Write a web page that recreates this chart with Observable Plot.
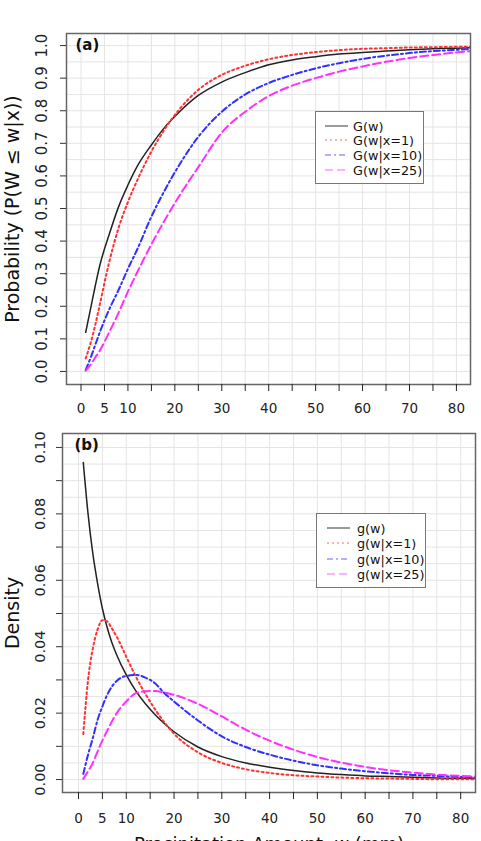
<!DOCTYPE html>
<html><head><meta charset="utf-8">
<script src="https://cdn.jsdelivr.net/npm/d3@7"></script>
<script src="https://cdn.jsdelivr.net/npm/@observablehq/plot@0.6"></script>
<style>
body{margin:0;background:#fff;font-family:"DejaVu Sans",sans-serif;}
#wrap{position:relative;width:481px;height:841px;overflow:hidden;background:#fff;}
#title{position:absolute;top:0px;left:66px;width:404px;text-align:center;font-size:14px;color:#111;line-height:17px;}
.panel{position:absolute;left:0;}
.legend{position:absolute;background:#fff;border:1.5px solid #777;box-sizing:border-box;}
.legend svg{display:block;}
</style></head>
<body><div id="wrap"><div id="title">Region 4</div></div>
<script>
// ---- data ----
const xTicks = [0,5,10,15,20,25,30,35,40,45,50,55,60,65,70,75,80];
const xLabels = [0,5,10,20,30,40,50,60,70,80];
const yTicksA = [0,0.1,0.2,0.3,0.4,0.5,0.6,0.7,0.8,0.9,1.0];
const yLabelsA = [0,0.1,0.2,0.3,0.4,0.5,0.6,0.7,0.8,0.9,1.0];
const yGridA = [0,0.05,0.1,0.15,0.2,0.25,0.3,0.35,0.4,0.45,0.5,0.55,0.6,0.65,0.7,0.75,0.8,0.85,0.9,0.95,1.0];
const yTicksB = [0,0.01,0.02,0.03,0.04,0.05,0.06,0.07,0.08,0.09,0.10];
const yLabelsB = [0,0.02,0.04,0.06,0.08,0.10];
const yGridB = [0,0.005,0.01,0.015,0.02,0.025,0.03,0.035,0.04,0.045,0.05,0.055,0.06,0.065,0.07,0.075,0.08,0.085,0.09,0.095,0.10];

// panel (a): cumulative probabilities
const wA = [1,2,3,4,6,8,10,12,15,18,21,25,30,35,40,45,50,55,60,65,70,75,80,83];
const G    = [0.12,0.19,0.26,0.325,0.42,0.505,0.572,0.63,0.695,0.752,0.797,0.847,0.888,0.917,0.941,0.956,0.966,0.974,0.979,0.983,0.987,0.99,0.992,0.993];
const Gx1  = [0.04,0.085,0.14,0.205,0.335,0.44,0.52,0.587,0.675,0.747,0.805,0.864,0.91,0.938,0.958,0.971,0.98,0.986,0.99,0.992,0.994,0.995,0.996,0.996];
const Gx10 = [0.005,0.04,0.08,0.12,0.19,0.25,0.315,0.375,0.475,0.56,0.635,0.72,0.797,0.85,0.885,0.91,0.93,0.946,0.959,0.969,0.977,0.983,0.987,0.989];
const Gx25 = [0.002,0.02,0.042,0.064,0.12,0.18,0.245,0.305,0.39,0.468,0.54,0.627,0.733,0.797,0.845,0.877,0.9,0.92,0.936,0.95,0.962,0.971,0.979,0.983];

// panel (b): densities
const wB = [1,2,3,4,5,6,7,8,10,12,14,16,18,20,25,30,35,40,45,50,55,60,65,70,75,80,83];
const g    = [0.0955,0.08,0.068,0.059,0.0515,0.0458,0.0412,0.0375,0.0315,0.0267,0.0228,0.0196,0.0168,0.0144,0.0098,0.0069,0.005,0.0037,0.0027,0.002,0.0015,0.0011,0.0009,0.0007,0.0005,0.0004,0.0004];
const gx1  = [0.0137,0.03,0.0395,0.0452,0.048,0.0476,0.0455,0.043,0.037,0.031,0.0258,0.0212,0.0172,0.0138,0.0082,0.005,0.0031,0.002,0.0013,0.0009,0.0006,0.0004,0.0003,0.0002,0.0001,0.0001,0.0001];
const gx10 = [0.0017,0.0075,0.0125,0.018,0.022,0.0255,0.028,0.0297,0.0312,0.0315,0.0307,0.029,0.026,0.0235,0.0178,0.013,0.0098,0.0075,0.0057,0.0043,0.0033,0.0025,0.0019,0.0014,0.0011,0.0008,0.0007];
const gx25 = [0.0002,0.0025,0.005,0.0085,0.0118,0.0147,0.0175,0.02,0.0235,0.026,0.0266,0.0267,0.0262,0.0255,0.0228,0.019,0.015,0.0117,0.009,0.0068,0.0051,0.0038,0.0028,0.0021,0.0015,0.0011,0.0009];

const namesA = ["G(w)","G(w|x=1)","G(w|x=10)","G(w|x=25)"];
const namesB = ["g(w)","g(w|x=1)","g(w|x=10)","g(w|x=25)"];

// ---- styles ----
const styles = [
  {stroke:"#222", width:1.5, dash:null},
  {stroke:"#ff3030", width:2, dash:"2 3"},
  {stroke:"#3030ff", width:2, dash:"6 3 2 3"},
  {stroke:"#ff30ff", width:2, dash:"8 4"}
];

function tidy(w, series){
  return series.map(s => w.map((x,i)=>({w:x, v:s[i]})));
}

function panel(opts){
  const seriesData = tidy(opts.w, opts.series);
  const marks = [
    Plot.gridX(xTicks, {stroke:"#e4e4e4", strokeOpacity:1, strokeWidth:1}),
    Plot.gridY(opts.yGrid, {stroke:"#e4e4e4", strokeOpacity:1, strokeWidth:1}),
    ...seriesData.map((d,i)=>Plot.line(d, {x:"w", y:"v", curve:"monotone-x",
      stroke:styles[i].stroke, strokeWidth:styles[i].width,
      strokeDasharray:styles[i].dash, clip:true})),
    Plot.frame({stroke:"#666", strokeWidth:1.5}),
    Plot.axisX({ticks:xTicks, tickFormat:d=>xLabels.includes(d)?String(d):"",
      tickSize:7, tickPadding:opts.xPad, fontSize:13.5, color:"#222", label:null}),
    Plot.axisY({ticks:opts.yTicks, tickFormat:()=> "", tickSize:6, color:"#333", label:null}),
    Plot.text(opts.yLabels, {y:d=>d, text:d=>d.toFixed(opts.dec), frameAnchor:"left",
      dx:opts.yLabDx, rotate:-90, textAnchor:"middle", lineAnchor:"middle",
      fontSize:opts.yLabSize, fill:"#222"}),
    Plot.text([opts.yTitle], {frameAnchor:"left", dx:opts.yTitleDx, rotate:-90,
      textAnchor:"middle", lineAnchor:"middle", fontSize:19, fill:"#111"}),
    Plot.text([opts.tag], {frameAnchor:"top-left", dx:opts.tagDx, dy:opts.tagDy, fontSize:15,
      fontWeight:"bold", fill:"#111", textAnchor:"start", lineAnchor:"top"})
  ];
  if (opts.xTitle) marks.push(Plot.text([opts.xTitle], {frameAnchor:"bottom", dy:opts.xTitleDy,
      fontSize:18, fill:"#111", textAnchor:"middle", lineAnchor:"top"}));
  return Plot.plot({
    width:481, height:opts.height,
    marginTop:opts.mt, marginBottom:opts.mb, marginLeft:opts.ml, marginRight:opts.mr,
    x:{domain:opts.xDomain},
    y:{domain:opts.yDomain},
    style:{fontFamily:"DejaVu Sans", background:"#fff", overflow:"visible"},
    marks
  });
}

const wrap = document.getElementById("wrap");

const pa = panel({w:wA, series:[G,Gx1,Gx10,Gx25], height:420, mt:33, mb:36, ml:66, mr:11,
  xDomain:[-3.09,83.0], yDomain:[-0.04,1.037], yTicks:yTicksA, yLabels:yLabelsA, yGrid:yGridA,
  dec:1, yLabDx:-24, yLabSize:15, yTitle:"Probability (P(W \u2264 w|x))", yTitleDx:-54,
  tag:"(a)", tagDx:9, tagDy:6, xPad:12});
pa.classList.add("panel"); pa.style.top="0px";
wrap.appendChild(pa);

const pb = panel({w:wB, series:[g,gx1,gx10,gx25], height:421, mt:13, mb:49, ml:62, mr:6,
  xDomain:[-3.35,83.1], yDomain:[-0.0039,0.1042], yTicks:yTicksB, yLabels:yLabelsB, yGrid:yGridB,
  dec:2, yLabDx:-22, yLabSize:14.5, yTitle:"Density", yTitleDx:-50,
  tag:"(b)", tagDx:12, tagDy:6, xPad:14, xTitle:"Precipitation Amount, w (mm)", xTitleDy:45});
pb.classList.add("panel"); pb.style.top="420px";
wrap.appendChild(pb);

// ---- legends ----
function legend(names, box){
  const div = document.createElement("div");
  div.className = "legend";
  Object.assign(div.style, {left:box.left+"px", top:box.top+"px", width:box.w+"px", height:box.h+"px"});
  let s = `<svg width="${box.w-3}" height="${box.h-3}" style="font-family:'DejaVu Sans';font-size:12.8px">`;
  names.forEach((n,i)=>{
    const y = box.rows[i];
    const st = styles[i];
    s += `<line x1="${box.sx1}" x2="${box.sx2}" y1="${y}" y2="${y}" stroke="${st.stroke}" stroke-width="1.2" ${st.dash?`stroke-dasharray="${st.dash}"`:""} opacity="0.75"/>`;
    s += `<text x="${box.tx}" y="${y}" dy="0.36em" fill="#111">${n}</text>`;
  });
  s += `</svg>`;
  div.innerHTML = s;
  wrap.appendChild(div);
}
legend(namesA, {left:315, top:111, w:109, h:73, rows:[14,28,43,58], sx1:9, sx2:32, tx:37});
legend(namesB, {left:316, top:513, w:110, h:75, rows:[14,29,45,60], sx1:10, sx2:33, tx:40});
</script>
</body></html>
